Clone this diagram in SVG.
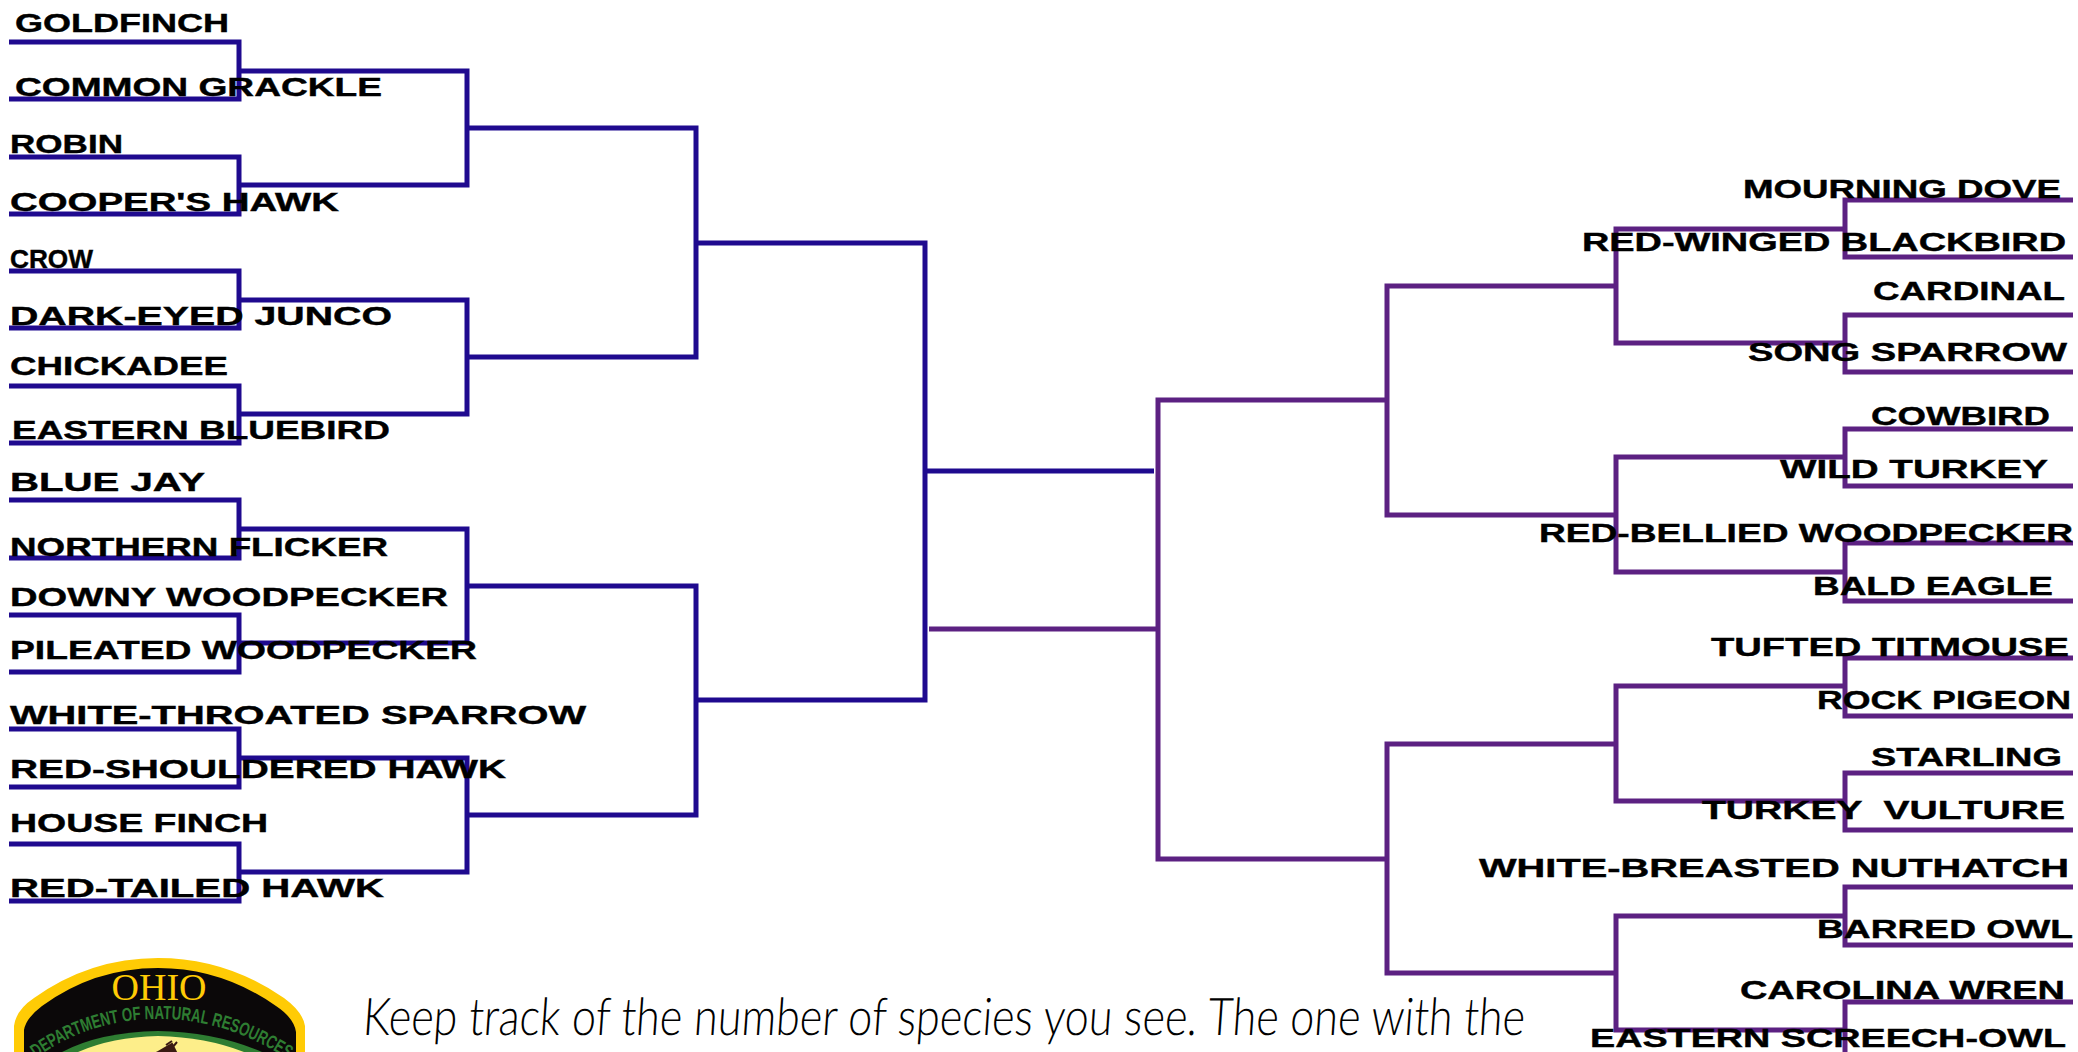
<svg xmlns="http://www.w3.org/2000/svg" width="2078" height="1052" viewBox="0 0 2078 1052">
<style>
.b{fill:none;stroke:#1f0a8f;stroke-width:5}
.p{fill:none;stroke:#5c2182;stroke-width:5}
.t{font-family:"Liberation Sans",Arial,sans-serif;font-weight:700;font-size:25px;fill:#000;stroke:#000;stroke-width:.4}
</style>
<rect width="2078" height="1052" fill="#fff"/>
<g id="connectors">
<g class="b">
<path d="M9 42H239V99H9M9 157H239V214H9M9 271H239V328H9M9 386H239V443H9M9 500H239V558H9M9 615H239V672H9M9 729H239V787H9M9 844H239V901H9"/>
<path d="M239 71H467V185H239M239 300H467V414H239M239 529H467V643H239M239 758H467V872H239"/>
<path d="M467 128H696V357H467M467 586H696V815H467"/>
<path d="M696 243H925V700H696"/>
<path d="M925 471H1154"/>
</g>
<g class="p">
<path d="M2073 200H1845V257H2073M2073 315H1845V372H2073M2073 429H1845V486H2073M2073 543H1845V601H2073M2073 658H1845V716H2073M2073 773H1845V830H2073M2073 887H1845V945H2073M2073 1002H1845V1059H2073"/>
<path d="M1845 229H1616V343H1845M1845 457H1616V572H1845M1845 686H1616V801H1845M1845 916H1616V1030H1845"/>
<path d="M1616 286H1387V515H1616M1616 744H1387V973H1616"/>
<path d="M1387 400H1158V859H1387"/>
<path d="M1158 629H929"/>
</g>
</g>
<g id="left-labels">
<g id="n-goldfinch"><text class="t" x="15" y="32" textLength="214" lengthAdjust="spacingAndGlyphs">GOLDFINCH</text></g>
<g id="n-grackle"><text class="t" x="15" y="96" textLength="367" lengthAdjust="spacingAndGlyphs">COMMON GRACKLE</text></g>
<g id="n-robin"><text class="t" x="10" y="153" textLength="113" lengthAdjust="spacingAndGlyphs">ROBIN</text></g>
<g id="n-cooper"><text class="t" x="10" y="211" textLength="329" lengthAdjust="spacingAndGlyphs">COOPER'S HAWK</text></g>
<g id="n-crow"><text class="t" x="10" y="268" textLength="83" lengthAdjust="spacingAndGlyphs">CROW</text></g>
<g id="n-junco"><text class="t" x="10" y="325" textLength="382" lengthAdjust="spacingAndGlyphs">DARK-EYED JUNCO</text></g>
<g id="n-chickadee"><text class="t" x="10" y="375" textLength="218" lengthAdjust="spacingAndGlyphs">CHICKADEE</text></g>
<g id="n-bluebird"><text class="t" x="12" y="439" textLength="378" lengthAdjust="spacingAndGlyphs">EASTERN BLUEBIRD</text></g>
<g id="n-bluejay"><text class="t" x="10" y="491" textLength="195" lengthAdjust="spacingAndGlyphs">BLUE JAY</text></g>
<g id="n-flicker"><text class="t" x="10" y="556" textLength="378" lengthAdjust="spacingAndGlyphs">NORTHERN FLICKER</text></g>
<g id="n-downy"><text class="t" x="10" y="606" textLength="438" lengthAdjust="spacingAndGlyphs">DOWNY WOODPECKER</text></g>
<g id="n-pileated"><text class="t" x="10" y="659" textLength="467" lengthAdjust="spacingAndGlyphs">PILEATED WOODPECKER</text></g>
<g id="n-whitethroated"><text class="t" x="10" y="724" textLength="576" lengthAdjust="spacingAndGlyphs">WHITE-THROATED SPARROW</text></g>
<g id="n-redshouldered"><text class="t" x="10" y="778" textLength="496" lengthAdjust="spacingAndGlyphs">RED-SHOULDERED HAWK</text></g>
<g id="n-housefinch"><text class="t" x="10" y="832" textLength="258" lengthAdjust="spacingAndGlyphs">HOUSE FINCH</text></g>
<g id="n-redtailed"><text class="t" x="10" y="897" textLength="374" lengthAdjust="spacingAndGlyphs">RED-TAILED HAWK</text></g>
</g>
<g id="right-labels">
<g id="n-dove"><text class="t" x="1743" y="198" textLength="318" lengthAdjust="spacingAndGlyphs">MOURNING DOVE</text></g>
<g id="n-blackbird"><text class="t" x="1582" y="251" textLength="484" lengthAdjust="spacingAndGlyphs">RED-WINGED BLACKBIRD</text></g>
<g id="n-cardinal"><text class="t" x="1873" y="300" textLength="192" lengthAdjust="spacingAndGlyphs">CARDINAL</text></g>
<g id="n-songsparrow"><text class="t" x="1748" y="361" textLength="319" lengthAdjust="spacingAndGlyphs">SONG SPARROW</text></g>
<g id="n-cowbird"><text class="t" x="1871" y="425" textLength="179" lengthAdjust="spacingAndGlyphs">COWBIRD</text></g>
<g id="n-wildturkey"><text class="t" x="1780" y="478" textLength="268" lengthAdjust="spacingAndGlyphs">WILD TURKEY</text></g>
<g id="n-redbellied"><text class="t" x="1539" y="542" textLength="534" lengthAdjust="spacingAndGlyphs">RED-BELLIED WOODPECKER</text></g>
<g id="n-baldeagle"><text class="t" x="1813" y="595" textLength="240" lengthAdjust="spacingAndGlyphs">BALD EAGLE</text></g>
<g id="n-titmouse"><text class="t" x="1711" y="656" textLength="358" lengthAdjust="spacingAndGlyphs">TUFTED TITMOUSE</text></g>
<g id="n-pigeon"><text class="t" x="1817" y="709" textLength="254" lengthAdjust="spacingAndGlyphs">ROCK PIGEON</text></g>
<g id="n-starling"><text class="t" x="1871" y="766" textLength="191" lengthAdjust="spacingAndGlyphs">STARLING</text></g>
<g id="n-vulture"><text class="t" x="1702" y="819" textLength="363" lengthAdjust="spacingAndGlyphs" xml:space="preserve">TURKEY  VULTURE</text></g>
<g id="n-nuthatch"><text class="t" x="1479" y="877" textLength="590" lengthAdjust="spacingAndGlyphs">WHITE-BREASTED NUTHATCH</text></g>
<g id="n-barredowl"><text class="t" x="1817" y="938" textLength="256" lengthAdjust="spacingAndGlyphs">BARRED OWL</text></g>
<g id="n-wren"><text class="t" x="1740" y="999" textLength="325" lengthAdjust="spacingAndGlyphs">CAROLINA WREN</text></g>
<g id="n-screechowl"><text class="t" x="1590" y="1047" textLength="476" lengthAdjust="spacingAndGlyphs">EASTERN SCREECH-OWL</text></g>
</g>
<g id="note">
<text transform="translate(362 1035) skewX(-4)" font-family="Lato,'Noto Sans',sans-serif" font-weight="300" font-size="52" fill="#000" textLength="1162" lengthAdjust="spacingAndGlyphs">Keep track of the number of species you see. The one with the</text>
</g>
<g id="logo">
<path d="M14 1052V1026Q16 1010 34 998Q90 958 158 958Q226 958 284 998Q303 1012 305 1026V1052Z" fill="#ffcb05"/>
<path d="M24 1052V1030Q26 1018 42 1006Q94 968 158 968Q222 968 276 1006Q294 1018 296 1032V1052Z" fill="#0b0809"/>
<path d="M62 1052Q100 1032 158 1031Q216 1032 262 1052Z" fill="#2e7d32"/>
<path d="M78 1052Q112 1037 158 1036Q206 1037 244 1052Z" fill="#fdee8a"/>
<path d="M158 1052L172 1044L176 1052ZM166 1045L172 1041M172 1048L177 1042" fill="#3a1a12" stroke="#3a1a12" stroke-width="2"/>
<text x="159" y="1000" text-anchor="middle" font-family="'Liberation Serif',serif" font-size="38" fill="#ffcb05">OHIO</text>
<path id="arc" d="M36 1058Q90 1019 158 1019Q226 1019 286 1058" fill="none"/>
<text font-family="'Liberation Sans',sans-serif" font-weight="700" font-size="19" fill="#2e7d32"><textPath href="#arc" textLength="268" lengthAdjust="spacingAndGlyphs">DEPARTMENT OF NATURAL RESOURCES</textPath></text>
</g>
</svg>
